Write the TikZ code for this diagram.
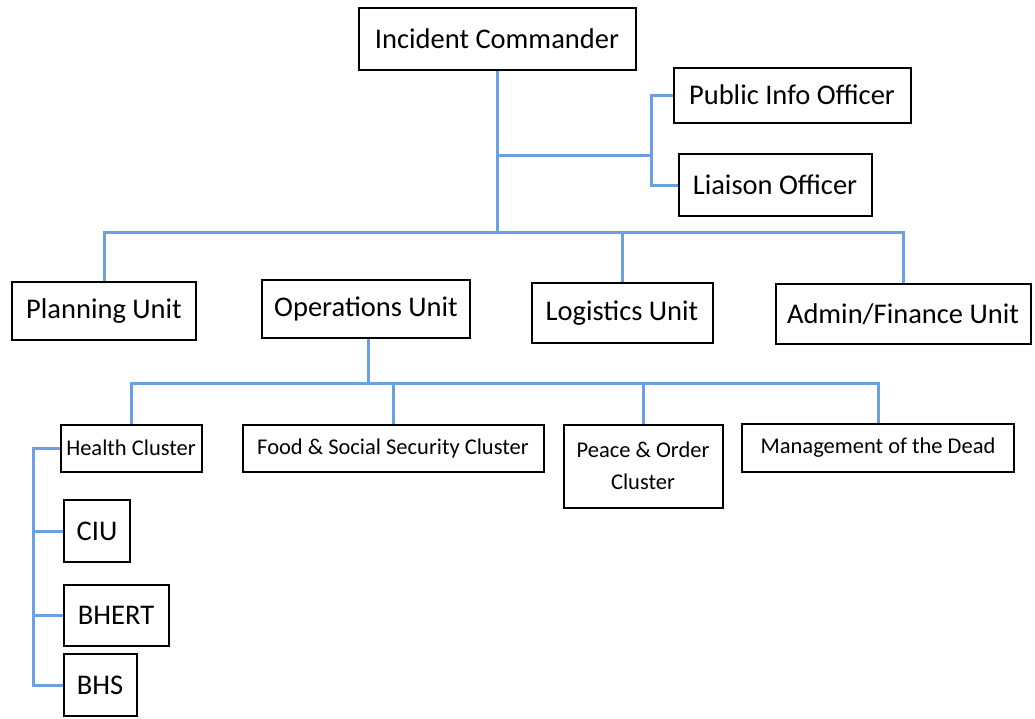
\documentclass[tikz,border=0pt]{standalone}
\usepackage{fontspec}
\setmainfont{Carlito}
\usetikzlibrary{positioning}
\definecolor{linkblue}{RGB}{108,160,228}

\tikzset{
  unitbox/.style={draw=black, line width=2pt, inner sep=0pt, align=center,
    font=\fontsize{28.5}{32}\selectfont},
  clusterbox/.style={unitbox, font=\fontsize{22.5}{32}\selectfont},
  link/.style={draw=linkblue, line width=3pt}
}

\begin{document}
\begin{tikzpicture}[x=1pt,y=-1pt]
    \useasboundingbox (0,0) rectangle (1035,718);
    % top
    \node[unitbox, minimum width=277pt, minimum height=62pt] (ic) at (497,39) {Incident Commander};
    \node[unitbox, minimum width=237pt, minimum height=55pt] (pio) at (792,95) {Public Info Officer};
    \node[unitbox, minimum width=193pt, minimum height=62pt] (lia) at (775,185) {Liaison Officer};
    % units
    \node[unitbox, minimum width=184pt, minimum height=58pt] (plan) at (104,311) {Planning Unit};
    \node[unitbox, minimum width=208pt, minimum height=58pt] (ops) at (366,309) {Operations Unit};
    \node[unitbox, minimum width=181pt, minimum height=60pt] (log) at (622,313) {Logistics Unit};
    \node[unitbox, minimum width=255pt, minimum height=60pt] (adm) at (903,314) {Admin/Finance Unit};
    % clusters
    \node[clusterbox, minimum width=141pt, minimum height=47pt] (hc) at (131,448) {Health Cluster};
    \node[clusterbox, minimum width=301pt, minimum height=47pt] (fsc) at (393,448) {Food \& Social Security Cluster};
    \node[clusterbox, minimum width=159pt, minimum height=83pt] (po) at (643,466) {Peace \& Order\\Cluster};
    \node[clusterbox, minimum width=272pt, minimum height=48pt] (mgd) at (878,448) {Management of the Dead};
    % health teams
    \node[unitbox, minimum width=66pt, minimum height=62pt] (ciu) at (97,531) {CIU};
    \node[unitbox, minimum width=105pt, minimum height=61pt] (bhert) at (116,615) {BHERT};
    \node[unitbox, minimum width=73pt, minimum height=62pt] (bhs) at (100,685) {BHS};

    \coordinate (bus) at (497,232);
    \coordinate (staff) at (651,155);
    \coordinate (cbus) at (368,383);
    \coordinate (hspine) at (33,448);

    \draw[link] (ic.south) -- (bus);
    \draw[link] (ic.south |- staff) -- (staff);
    \draw[link] (pio.west) -| (staff) |- (lia.west);
    \draw[link] (plan.north) |- (bus) -| (adm.north);
    \draw[link] (ops.north -| cbus) -- (ops.north -| cbus |- bus);
    \draw[link] (log.north) -- (log.north |- bus);

    \draw[link] (ops.south -| cbus) -- (cbus);
    \draw[link] (hc.north) |- (cbus) -| (mgd.north);
    \draw[link] (fsc.north) -- (fsc.north |- cbus);
    \draw[link] (po.north) -- (po.north |- cbus);

    \draw[link] (hc.west) -- (hspine) |- (bhs.west);
    \draw[link] (ciu.west) -- (ciu.west -| hspine);
    \draw[link] (bhert.west) -- (bhert.west -| hspine);
\end{tikzpicture}
\end{document}
